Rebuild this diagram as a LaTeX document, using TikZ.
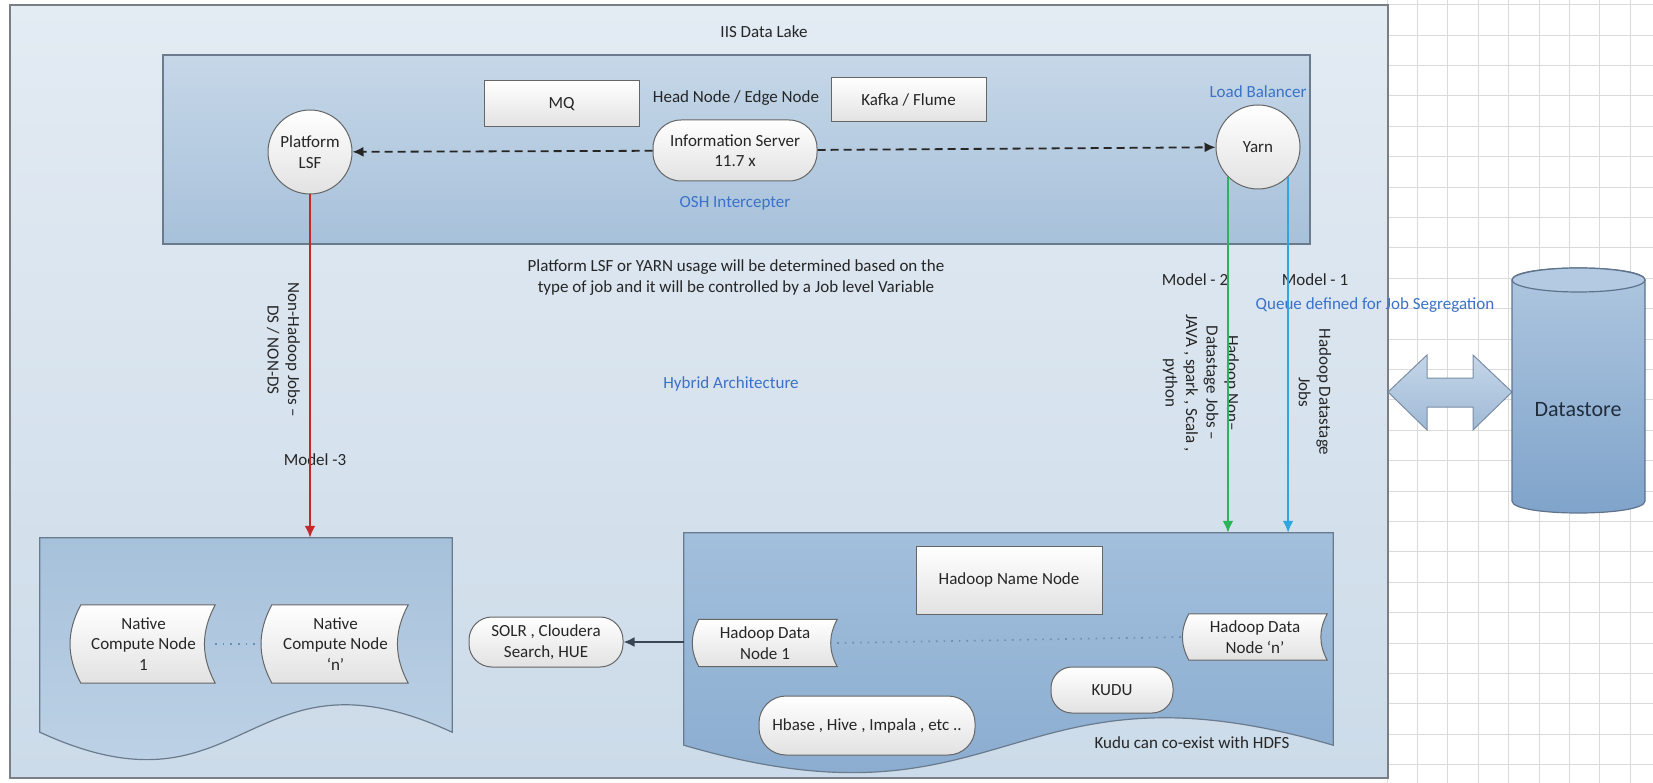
\documentclass[tikz,border=0pt]{standalone}
\usepackage{fontspec}
\setmainfont{Carlito}
\usetikzlibrary{arrows.meta,shapes.geometric,shapes.misc,calc}
\definecolor{txt}{HTML}{262626}
\definecolor{bluetxt}{HTML}{3B72C8}
\definecolor{bordergray}{HTML}{7A7F86}
\definecolor{lakeT}{HTML}{E3EBF3}
\definecolor{lakeB}{HTML}{CCDBE9}
\definecolor{headT}{HTML}{C6D7E8}
\definecolor{headB}{HTML}{A7C1DA}
\definecolor{natT}{HTML}{A6C1DB}
\definecolor{natB}{HTML}{C4D6E8}
\definecolor{hadT}{HTML}{A2BFDC}
\definecolor{hadB}{HTML}{85A8CD}
\definecolor{boxborder}{HTML}{6A7B8E}
\definecolor{nodeB}{HTML}{E2E2E2}
\definecolor{nodeborder}{HTML}{666666}
\definecolor{redline}{HTML}{C62828}
\definecolor{greenline}{HTML}{2DB35A}
\definecolor{blueline}{HTML}{2EA6E0}
\definecolor{gridc}{HTML}{DADADA}
\definecolor{dsT}{HTML}{AFC7E0}
\definecolor{dsB}{HTML}{7FA3CA}
\definecolor{dsborder}{HTML}{5F738C}
\definecolor{dotc}{HTML}{6F8DB3}
\definecolor{arrT}{HTML}{C5D6E8}
\definecolor{arrB}{HTML}{9FBAD6}
\definecolor{dstxt}{HTML}{1F2D3D}
\definecolor{solrc}{HTML}{3A4654}
\definecolor{dblborder}{HTML}{7B8DA3}
\definecolor{cyltopc}{HTML}{B3CAE2}
\pgfdeclarelayer{back}
\pgfdeclarelayer{mid}
\pgfsetlayers{back,mid,main}
\begin{document}
\begin{tikzpicture}[x=1pt,y=-1pt,
  every node/.style={font=\fontsize{17}{20.5}\selectfont, text=txt},
  gridline/.style={draw=gridc, line width=0.8pt},
  lake/.style={draw=bordergray, line width=1.2pt, top color=lakeT, bottom color=lakeB, inner sep=0},
  headbox/.style={draw=boxborder, line width=1.2pt, top color=headT, bottom color=headB, inner sep=0},
  region/.style={draw=none, inner sep=0},
  docnative/.style={draw=boxborder, line width=1.2pt, top color=natT, bottom color=natB},
  dochadoop/.style={draw=boxborder, line width=1.2pt, top color=hadT, bottom color=hadB},
  plainnode/.style={draw=nodeborder, line width=1pt, top color=white, bottom color=nodeB, align=center, inner sep=0},
  sqbox/.style={plainnode, rectangle},
  pill/.style={plainnode, rectangle, rounded corners=#1},
  roundnode/.style={plainnode, circle, minimum size=84pt},
  storedtext/.style={align=center, inner sep=0},
  storedshape/.style={draw=nodeborder, line width=1pt, top color=white, bottom color=nodeB},
  bluelabel/.style={text=bluetxt},
  rotlabel/.style={rotate=-90, align=center},
  dasharrow/.style={draw=txt, line width=1.8pt, dash pattern=on 8pt off 5pt, -{Latex[length=11pt,width=10pt]}},
  colarrow/.style={line width=2.4pt, -{Latex[length=12pt,width=11pt]}},
  solrarrow/.style={draw=solrc, line width=2pt, -{Latex[length=11pt,width=10pt]}},
  dotline/.style={draw=dotc, line width=1.6pt, dash pattern=on 1.6pt off 6pt},
  dblarrow/.style={draw=dblborder, line width=1pt, top color=arrT, bottom color=arrB},
  cylbody/.style={draw=dsborder, line width=1.2pt, top color=dsT, bottom color=dsB},
  cyltop/.style={draw=dsborder, line width=1.2pt, fill=cyltopc}
]
\useasboundingbox (0,0) rectangle (1653,783);

% invisible regions for the wave boxes
\node[region, minimum width=412pt, minimum height=194pt] (native) at (246,635) {};
\node[region, minimum width=649pt, minimum height=212pt] (hadoop) at (1008.5,639) {};

% stored-data text holders
\node[storedtext, minimum width=143pt, minimum height=78pt] (nc1) at (143.5,644) {Native\\Compute Node\\1};
\node[storedtext, minimum width=145pt, minimum height=78pt] (ncn) at (335.5,644) {Native\\Compute Node\\‘n’};
\node[storedtext, minimum width=144pt, minimum height=47pt] (dn1) at (765,643) {Hadoop Data\\Node 1};
\node[storedtext, minimum width=144pt, minimum height=46pt] (dnn) at (1255,637) {Hadoop Data\\Node ‘n’};

\begin{pgfonlayer}{back}
  \foreach \i in {0,...,8} \draw[gridline] ({1387+30.4*\i},0) -- ({1387+30.4*\i},783);
  \foreach \j in {0,...,25} \draw[gridline] (1388,{4.6+30.4*\j}) -- (1653,{4.6+30.4*\j});
  \node[lake, minimum width=1378pt, minimum height=773pt] (lake) at (699,391.5) {};
  \node[headbox, minimum width=1147pt, minimum height=189pt] (head) at (736.5,149.5) {};
  \path[docnative] (native.south west) -- (native.north west) -- (native.north east) -- (native.south east)
     .. controls ($(native.south)+(0,-95)$) and ($(native.south)+(0,95)$) .. (native.south west) -- cycle;
  \path[dochadoop] (hadoop.south west) -- (hadoop.north west) -- (hadoop.north east) -- (hadoop.south east)
     .. controls ($(hadoop.south)+(0,-95)$) and ($(hadoop.south)+(0,95)$) .. (hadoop.south west) -- cycle;
\end{pgfonlayer}

\begin{pgfonlayer}{mid}
  \foreach \n/\b in {nc1/9,ncn/9,dn1/6,dnn/6}
    \path[storedshape] ([xshift=\b pt]\n.north west) -- (\n.north east) to[bend right=28] (\n.south east)
       -- ([xshift=\b pt]\n.south west) to[bend left=28] ([xshift=\b pt]\n.north west) -- cycle;
\end{pgfonlayer}

% top area
\node (title) at (764,32) {IIS Data Lake};
\node[sqbox, minimum width=155pt, minimum height=46pt] (mq) at (561.5,104) {MQ};
\node (headlbl) at (736,98) {Head Node / Edge Node};
\node[sqbox, minimum width=155pt, minimum height=44pt] (kafka) at (908.5,100) {Kafka / Flume};
\node[bluelabel] (lb) at (1258,92) {Load Balancer};
\node[roundnode] (lsf) at (310,152) {Platform\\LSF};
\node[pill=28pt, minimum width=164pt, minimum height=61pt] (info) at (735,150.5) {Information Server\\11.7 x};
\node[roundnode] (yarn) at (1258,147) {Yarn};
\node[bluelabel] (osh) at (735,203) {OSH Intercepter};

% middle labels
\node[align=center] (usage) at (736,277.5) {Platform LSF or YARN usage will be determined based on the\\type of job and it will be controlled by a Job level Variable};
\node[bluelabel] (hybrid) at (731,384) {Hybrid Architecture};
\node (m2) at (1195,280) {Model - 2};
\node (m1) at (1315,280) {Model - 1};
\node[bluelabel] (queue) at (1375,305) {Queue defined for Job Segregation};
\node[rotlabel] (nonhadoop) at (283.5,350) {Non-Hadoop Jobs –\\DS / NON-DS};
\node (m3) at (315,460) {Model -3};
\node[rotlabel] (g2txt) at (1201,383) {Hadoop Non–\\Datastage Jobs –\\JAVA , spark , Scala ,\\python};
\node[rotlabel] (b1txt) at (1315,392) {Hadoop Datastage\\Jobs};

% bottom
\node[pill=23pt, minimum width=154pt, minimum height=50pt] (solr) at (546,642) {SOLR , Cloudera\\Search, HUE};
\node[sqbox, minimum width=186pt, minimum height=68pt] (namenode) at (1009,580) {Hadoop Name Node};
\node[pill=21pt, minimum width=122pt, minimum height=46pt] (kudu) at (1112,690) {KUDU};
\node[pill=27pt, minimum width=216pt, minimum height=59pt] (hbase) at (867,725.5) {Hbase , Hive , Impala , etc ..};
\node (kudunote) at (1192,743) {Kudu can co-exist with HDFS};

% datastore
\path[dblarrow] (1388,392) -- (1427,355) -- (1427,378) -- (1473,378) -- (1473,355) -- (1512,392)
   -- (1473,430) -- (1473,407) -- (1427,407) -- (1427,430) -- cycle;
\path[cylbody] (1512,280) -- (1512,501) .. controls (1512,517) and (1645,517) .. (1645,501)
   -- (1645,280) .. controls (1645,264) and (1512,264) .. (1512,280) -- cycle;
\path[cyltop] (1578.5,280) ellipse [x radius=66.5, y radius=12];
\node[font=\fontsize{22}{26}\selectfont, text=dstxt] (ds) at (1578,410) {Datastore};

% connectors
\draw[dasharrow] (info) -- (lsf);
\draw[dasharrow] (info) -- (yarn);
\draw[colarrow, redline] (lsf.south) -- (lsf.south |- native.north);
\draw[colarrow, greenline] (yarn.-135) -- (yarn.-135 |- hadoop.north);
\draw[colarrow, blueline] (yarn.-45) -- (yarn.-45 |- hadoop.north);
\draw[solrarrow] (solr.east -| hadoop.west) -- (solr.east);
\draw[dotline] (nc1.east) -- (ncn.west);
\draw[dotline] (dn1.east) -- (dnn.west);
\end{tikzpicture}
\end{document}
